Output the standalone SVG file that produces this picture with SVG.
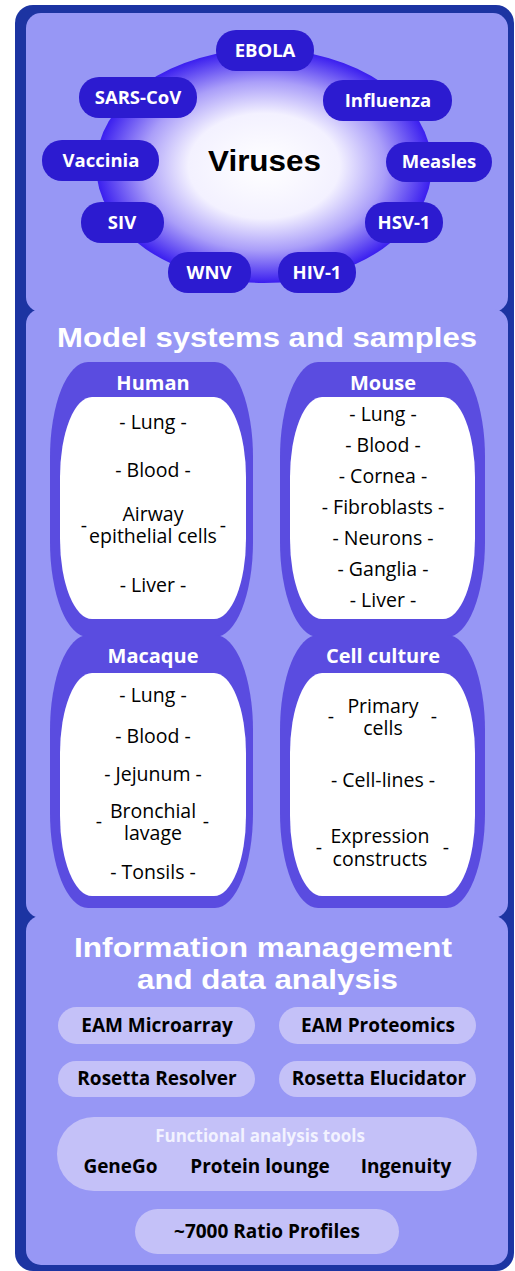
<svg xmlns="http://www.w3.org/2000/svg" width="515" height="1271" viewBox="0 0 515 1271">
<defs>
<radialGradient id="vgrad" cx="50%" cy="50%" r="50%">
<stop offset="0%" stop-color="#ffffff"/>
<stop offset="45%" stop-color="#f3f1ff"/>
<stop offset="72%" stop-color="#aa9ef9"/>
<stop offset="100%" stop-color="#3a1eef"/>
</radialGradient>
<style>
.frame{fill:#1c34a2}
.panel{fill:#9797f5}
.vpill{fill:#2c1bd0}
.vtxt{font-family:"Open Sans","Liberation Sans",sans-serif;font-weight:700;font-size:18.5px;fill:#ffffff;text-anchor:middle}
.head{font-family:"Liberation Sans",Arial,sans-serif;font-weight:700;font-size:27px;fill:#ffffff;text-anchor:middle}
.box{fill:#5a4ce0}
.inner{fill:#ffffff}
.btitle{font-family:"Open Sans","Liberation Sans",sans-serif;font-weight:700;font-size:20px;fill:#ffffff;text-anchor:middle}
.item{font-family:"Open Sans","Liberation Sans",sans-serif;font-size:19.5px;fill:#000000;text-anchor:middle}
.lpill{fill:#c4c1f8}
.ptxt{font-family:"Open Sans","Liberation Sans",sans-serif;font-weight:700;font-size:19px;fill:#000000;text-anchor:middle}
.ftxt{font-family:"Open Sans","Liberation Sans",sans-serif;font-weight:700;font-size:17px;fill:#f2f2ff;text-anchor:middle}
</style>
</defs>

<g id="frame">
<rect class="frame" x="15" y="5" width="499" height="1266" rx="18"/>
</g>

<g id="panel-viruses">
<rect class="panel" x="26" y="13" width="482" height="299" rx="15"/>
<ellipse cx="264" cy="166" rx="168" ry="117" fill="url(#vgrad)"/>
<text x="264.5" y="171" font-family="'Liberation Sans',Arial,sans-serif" font-weight="700" font-size="29" fill="#000" text-anchor="middle" textLength="113" lengthAdjust="spacingAndGlyphs">Viruses</text>
</g>

<g id="virus-ebola"><rect class="vpill" x="216" y="30" width="98" height="41" rx="20"/><text class="vtxt" x="265" y="57">EBOLA</text></g>
<g id="virus-sars"><rect class="vpill" x="79" y="77" width="118" height="41" rx="20"/><text class="vtxt" x="138" y="104">SARS-CoV</text></g>
<g id="virus-influenza"><rect class="vpill" x="323" y="80" width="129" height="41" rx="20"/><text class="vtxt" x="388" y="107">Influenza</text></g>
<g id="virus-vaccinia"><rect class="vpill" x="42" y="140" width="117" height="41" rx="20"/><text class="vtxt" x="101" y="167">Vaccinia</text></g>
<g id="virus-measles"><rect class="vpill" x="386" y="142" width="106" height="40" rx="20"/><text class="vtxt" x="439" y="168">Measles</text></g>
<g id="virus-siv"><rect class="vpill" x="81" y="202" width="83" height="41" rx="20"/><text class="vtxt" x="122" y="229">SIV</text></g>
<g id="virus-hsv"><rect class="vpill" x="365" y="202" width="78" height="41" rx="20"/><text class="vtxt" x="404" y="229">HSV-1</text></g>
<g id="virus-wnv"><rect class="vpill" x="168" y="252" width="83" height="41" rx="20"/><text class="vtxt" x="209" y="279">WNV</text></g>
<g id="virus-hiv"><rect class="vpill" x="278" y="252" width="78" height="41" rx="20"/><text class="vtxt" x="317" y="279">HIV-1</text></g>

<g id="panel-models">
<rect class="panel" x="26" y="309" width="482" height="609" rx="15"/>
<text class="head" x="267" y="347" textLength="420" lengthAdjust="spacingAndGlyphs">Model systems and samples</text>
</g>

<g id="box-human">
<rect class="box" x="50" y="362" width="203" height="275" rx="38" ry="95"/>
<rect class="inner" x="60" y="397" width="186" height="222" rx="32" ry="80"/>
<text class="btitle" x="153" y="390">Human</text>
<text class="item" x="153" y="429">- Lung -</text>
<text class="item" x="153" y="477">- Blood -</text>
<text class="item"><tspan x="153" y="521">Airway</tspan><tspan x="153" y="543">epithelial cells</tspan></text>
<text class="item" x="84" y="532">-</text>
<text class="item" x="223" y="532">-</text>
<text class="item" x="153" y="592">- Liver -</text>
</g>

<g id="box-mouse">
<rect class="box" x="280" y="362" width="205" height="275" rx="38" ry="95"/>
<rect class="inner" x="290" y="397" width="185" height="222" rx="32" ry="80"/>
<text class="btitle" x="383" y="390">Mouse</text>
<text class="item" x="383" y="421">- Lung -</text>
<text class="item" x="383" y="452">- Blood -</text>
<text class="item" x="383" y="483">- Cornea -</text>
<text class="item" x="383" y="514">- Fibroblasts -</text>
<text class="item" x="383" y="545">- Neurons -</text>
<text class="item" x="383" y="576">- Ganglia -</text>
<text class="item" x="383" y="607">- Liver -</text>
</g>

<g id="box-macaque">
<rect class="box" x="50" y="635" width="203" height="273" rx="38" ry="95"/>
<rect class="inner" x="60" y="673" width="186" height="223" rx="32" ry="80"/>
<text class="btitle" x="153" y="663">Macaque</text>
<text class="item" x="153" y="702">- Lung -</text>
<text class="item" x="153" y="743">- Blood -</text>
<text class="item" x="153" y="781">- Jejunum -</text>
<text class="item"><tspan x="153" y="818">Bronchial</tspan><tspan x="153" y="840">lavage</tspan></text>
<text class="item" x="99" y="828">-</text>
<text class="item" x="206" y="828">-</text>
<text class="item" x="153" y="879">- Tonsils -</text>
</g>

<g id="box-cellculture">
<rect class="box" x="280" y="635" width="205" height="273" rx="38" ry="95"/>
<rect class="inner" x="290" y="673" width="185" height="223" rx="32" ry="80"/>
<text class="btitle" x="383" y="663">Cell culture</text>
<text class="item"><tspan x="383" y="713">Primary</tspan><tspan x="383" y="735">cells</tspan></text>
<text class="item" x="331" y="723">-</text>
<text class="item" x="434" y="723">-</text>
<text class="item" x="383" y="787">- Cell-lines -</text>
<text class="item"><tspan x="380" y="843">Expression</tspan><tspan x="380" y="866">constructs</tspan></text>
<text class="item" x="319" y="854">-</text>
<text class="item" x="446" y="854">-</text>
</g>

<g id="panel-info">
<rect class="panel" x="26" y="916" width="482" height="349" rx="15"/>
<text class="head" x="263" y="957" textLength="378" lengthAdjust="spacingAndGlyphs">Information management</text>
<text class="head" x="267.5" y="989" textLength="261" lengthAdjust="spacingAndGlyphs">and data analysis</text>
</g>

<g id="pill-eam-microarray"><rect class="lpill" x="58" y="1007" width="197" height="37" rx="18.5"/><text class="ptxt" x="157" y="1032">EAM Microarray</text></g>
<g id="pill-eam-proteomics"><rect class="lpill" x="279" y="1007" width="197" height="37" rx="18.5"/><text class="ptxt" x="378" y="1032">EAM Proteomics</text></g>
<g id="pill-rosetta-resolver"><rect class="lpill" x="58" y="1061" width="197" height="36" rx="18"/><text class="ptxt" x="157" y="1085">Rosetta Resolver</text></g>
<g id="pill-rosetta-elucidator"><rect class="lpill" x="279" y="1061" width="197" height="36" rx="18"/><text class="ptxt" x="379" y="1085">Rosetta Elucidator</text></g>
<g id="pill-functional">
<rect class="lpill" x="57" y="1117" width="420" height="74" rx="37"/>
<text class="ftxt" x="260" y="1142">Functional analysis tools</text>
<text class="ptxt" x="120.5" y="1173">GeneGo</text>
<text class="ptxt" x="260" y="1173">Protein lounge</text>
<text class="ptxt" x="406" y="1173">Ingenuity</text>
</g>
<g id="pill-ratio"><rect class="lpill" x="135" y="1209" width="264" height="45" rx="22.5"/><text class="ptxt" x="267" y="1238">~7000 Ratio Profiles</text></g>

<g id="connectors"></g>
</svg>
